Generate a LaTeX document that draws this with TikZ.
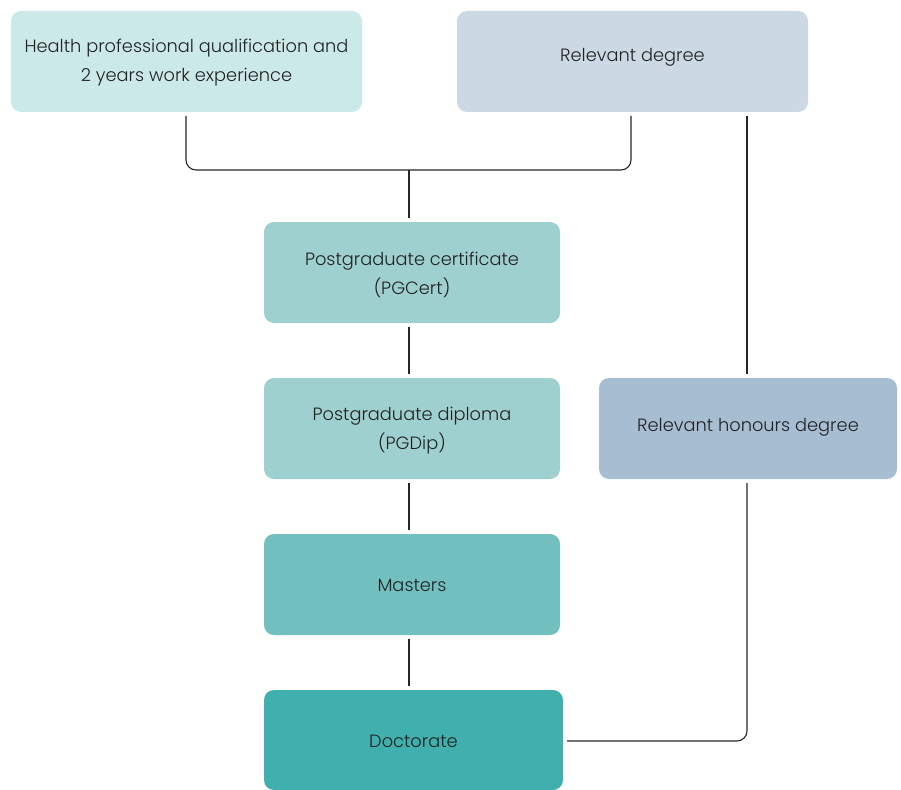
\documentclass[tikz,border=0pt]{standalone}
\usepackage{fontspec}
\setmainfont{Poppins}[UprightFont=* Light]
\begin{document}
\begin{tikzpicture}[x=1pt,y=-1pt,
  box/.style={rounded corners=10pt, inner sep=0pt, align=center, text=txt,
    font=\fontsize{17.8}{29}\selectfont},
  link/.style={draw=black!85, line width=1.1pt, rounded corners=10pt}]
\definecolor{txt}{HTML}{222222}
\definecolor{cA}{HTML}{CCE9E9}
\definecolor{cB}{HTML}{CCD9E4}
\definecolor{cC}{HTML}{9DD0CE}
\definecolor{cD}{HTML}{72BFBF}
\definecolor{cE}{HTML}{40B0AE}
\definecolor{cF}{HTML}{A7BDD1}
\useasboundingbox (0,0) rectangle (901,789);
\clip (0,0) rectangle (901,789);
% boxes
\fill[cA, rounded corners=10pt] (11,11) rectangle (362,112);
\node[box] (health) at (186.5,63) {Health professional qualification and\\2 years work experience};
\coordinate (healthb) at (186,116);
\fill[cB, rounded corners=10pt] (457,11) rectangle (808,112);
\node[box] (reldeg) at (632.5,57.5) {Relevant degree};
\coordinate (reldegb1) at (631,116);
\coordinate (reldegb2) at (747,116);
\fill[cC, rounded corners=10pt] (264,222) rectangle (560,323);
\node[box] (pgcert) at (412,274.5) {Postgraduate certificate\\(PGCert)};
\fill[cC, rounded corners=10pt] (264,378) rectangle (560,479);
\node[box] (pgdip) at (412,430.5) {Postgraduate diploma\\(PGDip)};
\fill[cD, rounded corners=10pt] (264,534) rectangle (560,635);
\node[box] (masters) at (412,585.5) {Masters};
\fill[cE, rounded corners=10pt] (264,690) rectangle (563,790);
\node[box] (doct) at (413.5,741.5) {Doctorate};
\fill[cF, rounded corners=10pt] (599,378) rectangle (897,479);
\node[box] (hons) at (748,427.5) {Relevant honours degree};
% connectors
\coordinate (join) at (409,170);
\draw[link] (healthb) |- (join) -| (reldegb1);
\draw[link] (join) -- (409,218);
\draw[link] (reldegb2) -- (747,374);
\draw[link] (409,327) -- (409,374);
\draw[link] (409,483) -- (409,530);
\draw[link] (409,639) -- (409,686);
\draw[link] (747,483) |- (567,741);
\end{tikzpicture}
\end{document}
